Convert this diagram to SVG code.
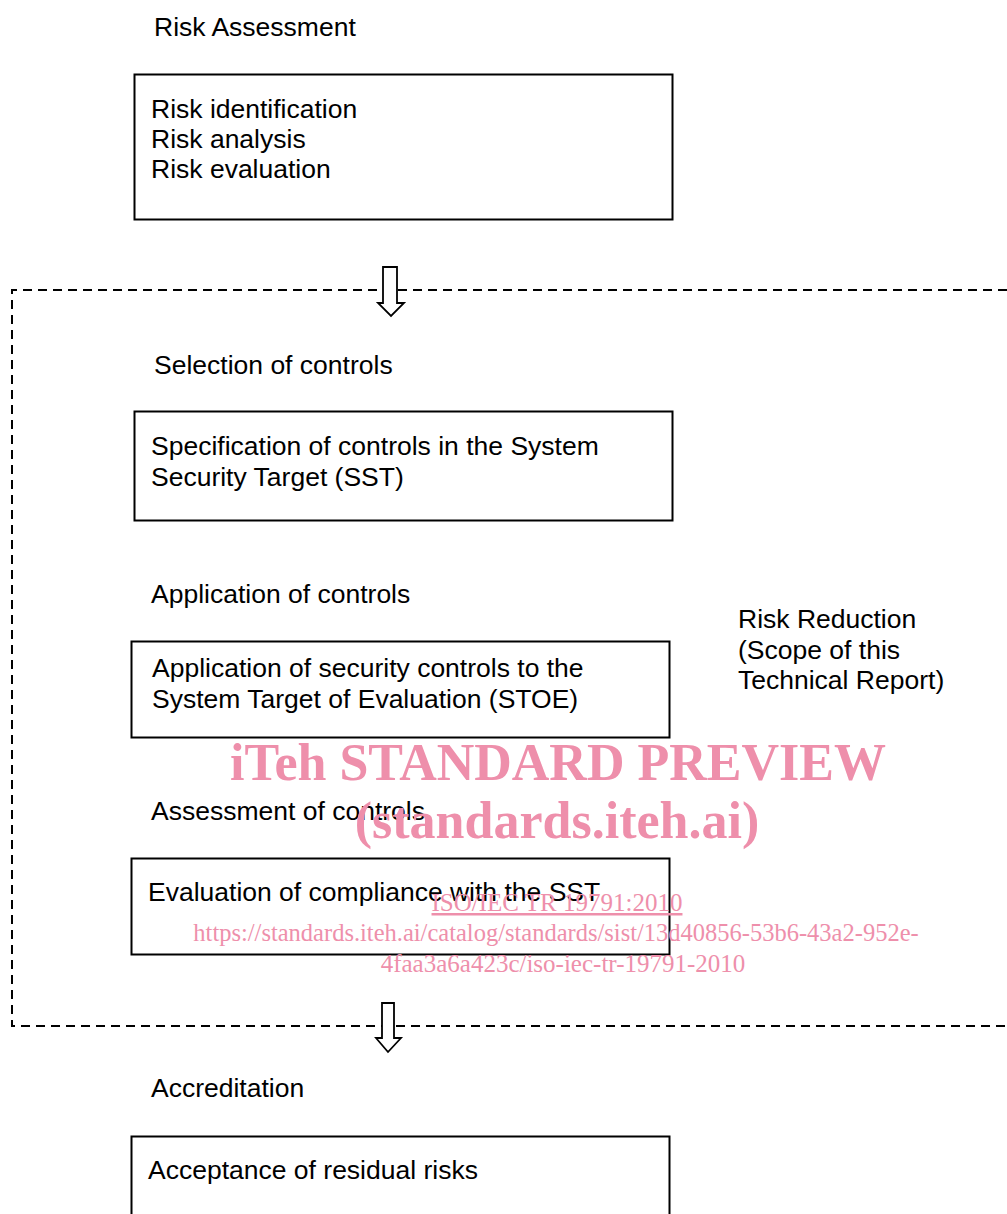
<svg xmlns="http://www.w3.org/2000/svg" width="1007" height="1214" viewBox="0 0 1007 1214">
<style>
.t{font-family:"Liberation Sans",Arial,sans-serif;font-size:26.5px;fill:#000}
.box{fill:#fff;stroke:#000;stroke-width:2}
.dash{fill:none;stroke:#000;stroke-width:2;stroke-dasharray:9 6}
.arr{fill:#fff;stroke:#000;stroke-width:1.8;stroke-linejoin:miter}
.wm{font-family:"Liberation Serif","Times New Roman",serif;fill:#EE8FAB;text-anchor:middle}
</style>
<rect width="1007" height="1214" fill="#fff"/>
<g id="scope">
<path class="dash" d="M1007,290 H12 V1026 H1007"/>
<text class="t" x="738" y="628">Risk Reduction</text>
<text class="t" x="738" y="659">(Scope of this</text>
<text class="t" x="738" y="689">Technical Report)</text>
</g>
<g id="connectors">
<path class="arr" d="M383,267 H397 V303 H404 L391,316 L378,303 H383 Z"/>
<path class="arr" d="M382,1003 H394 V1038 H401 L388,1052 L376,1038 H382 Z"/>
</g>
<g id="risk-assessment">
<text class="t" x="154" y="36">Risk Assessment</text>
<rect class="box" x="134.5" y="74.5" width="538" height="145"/>
<text class="t" x="151" y="118">Risk identification</text>
<text class="t" x="151" y="148">Risk analysis</text>
<text class="t" x="151" y="178">Risk evaluation</text>
</g>
<g id="selection">
<text class="t" x="154" y="374">Selection of controls</text>
<rect class="box" x="134.5" y="411.5" width="538" height="109"/>
<text class="t" x="151" y="455">Specification of controls in the System</text>
<text class="t" x="151" y="486">Security Target (SST)</text>
</g>
<g id="application">
<text class="t" x="151" y="603">Application of controls</text>
<rect class="box" x="131.5" y="641.5" width="538" height="96"/>
<text class="t" x="152" y="677">Application of security controls to the</text>
<text class="t" x="152" y="708">System Target of Evaluation (STOE)</text>
</g>
<g id="assessment">
<text class="t" x="151" y="820">Assessment of controls</text>
<rect class="box" x="131.5" y="858.5" width="538" height="96"/>
<text class="t" x="148" y="901">Evaluation of compliance with the SST</text>
</g>
<g id="accreditation">
<text class="t" x="151" y="1097">Accreditation</text>
<rect class="box" x="131.5" y="1136.5" width="538" height="100"/>
<text class="t" x="148" y="1179">Acceptance of residual risks</text>
</g>
<g id="watermark">
<text class="wm" x="558" y="780" font-size="52" font-weight="bold">iTeh STANDARD PREVIEW</text>
<text class="wm" x="557" y="838" font-size="52" font-weight="bold">(standards.iteh.ai)</text>
<text class="wm" x="557" y="911" font-size="25" text-decoration="underline">ISO/IEC TR 19791:2010</text>
<text class="wm" x="556" y="941" font-size="24.5">https://standards.iteh.ai/catalog/standards/sist/13d40856-53b6-43a2-952e-</text>
<text class="wm" x="563" y="972" font-size="25">4faa3a6a423c/iso-iec-tr-19791-2010</text>
</g>
</svg>
